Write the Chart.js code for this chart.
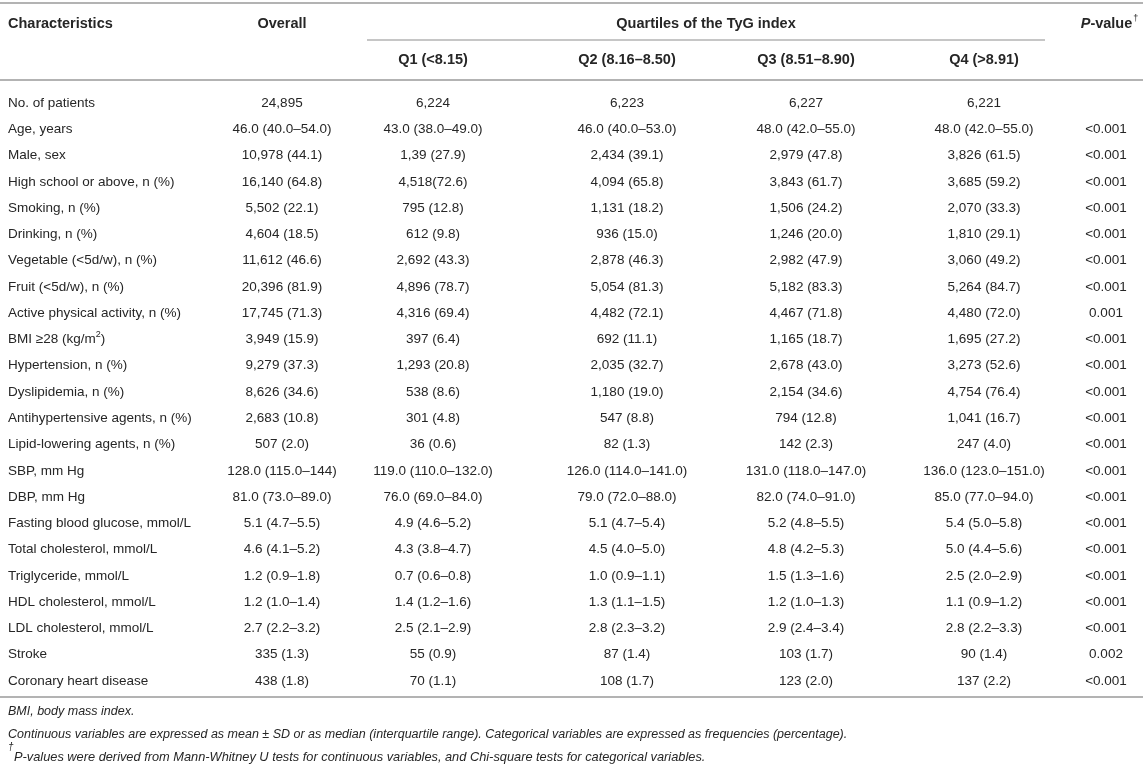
<!DOCTYPE html>
<html>
<head>
<meta charset="utf-8">
<title>Baseline characteristics by TyG quartiles</title>
<script src="https://cdn.jsdelivr.net/npm/chart.js@4.4.1/dist/chart.umd.min.js"></script>
<style>
  html, body { margin: 0; padding: 0; background: #fff; }
  #table { display: block; }
</style>
</head>
<body>
<canvas id="table" width="1143" height="778"></canvas>
<script>
// row labels (y categories)
var characteristics = [
    "No. of patients", "Age, years", "Male, sex", "High school or above, n (%)",
    "Smoking, n (%)", "Drinking, n (%)", "Vegetable (<5d/w), n (%)", "Fruit (<5d/w), n (%)",
    "Active physical activity, n (%)", "BMI \u226528 (kg/m^2)", "Hypertension, n (%)",
    "Dyslipidemia, n (%)", "Antihypertensive agents, n (%)", "Lipid-lowering agents, n (%)",
    "SBP, mm Hg", "DBP, mm Hg", "Fasting blood glucose, mmol/L", "Total cholesterol, mmol/L",
    "Triglyceride, mmol/L", "HDL cholesterol, mmol/L", "LDL cholesterol, mmol/L",
    "Stroke", "Coronary heart disease"
];

var overall = [
    "24,895", "46.0 (40.0–54.0)", "10,978 (44.1)", "16,140 (64.8)", "5,502 (22.1)",
    "4,604 (18.5)", "11,612 (46.6)", "20,396 (81.9)", "17,745 (71.3)", "3,949 (15.9)",
    "9,279 (37.3)", "8,626 (34.6)", "2,683 (10.8)", "507 (2.0)", "128.0 (115.0–144)",
    "81.0 (73.0–89.0)", "5.1 (4.7–5.5)", "4.6 (4.1–5.2)", "1.2 (0.9–1.8)", "1.2 (1.0–1.4)",
    "2.7 (2.2–3.2)", "335 (1.3)", "438 (1.8)"
];
var q1 = [
    "6,224", "43.0 (38.0–49.0)", "1,39 (27.9)", "4,518(72.6)", "795 (12.8)",
    "612 (9.8)", "2,692 (43.3)", "4,896 (78.7)", "4,316 (69.4)", "397 (6.4)",
    "1,293 (20.8)", "538 (8.6)", "301 (4.8)", "36 (0.6)", "119.0 (110.0–132.0)",
    "76.0 (69.0–84.0)", "4.9 (4.6–5.2)", "4.3 (3.8–4.7)", "0.7 (0.6–0.8)", "1.4 (1.2–1.6)",
    "2.5 (2.1–2.9)", "55 (0.9)", "70 (1.1)"
];
var q2 = [
    "6,223", "46.0 (40.0–53.0)", "2,434 (39.1)", "4,094 (65.8)", "1,131 (18.2)",
    "936 (15.0)", "2,878 (46.3)", "5,054 (81.3)", "4,482 (72.1)", "692 (11.1)",
    "2,035 (32.7)", "1,180 (19.0)", "547 (8.8)", "82 (1.3)", "126.0 (114.0–141.0)",
    "79.0 (72.0–88.0)", "5.1 (4.7–5.4)", "4.5 (4.0–5.0)", "1.0 (0.9–1.1)", "1.3 (1.1–1.5)",
    "2.8 (2.3–3.2)", "87 (1.4)", "108 (1.7)"
];
var q3 = [
    "6,227", "48.0 (42.0–55.0)", "2,979 (47.8)", "3,843 (61.7)", "1,506 (24.2)",
    "1,246 (20.0)", "2,982 (47.9)", "5,182 (83.3)", "4,467 (71.8)", "1,165 (18.7)",
    "2,678 (43.0)", "2,154 (34.6)", "794 (12.8)", "142 (2.3)", "131.0 (118.0–147.0)",
    "82.0 (74.0–91.0)", "5.2 (4.8–5.5)", "4.8 (4.2–5.3)", "1.5 (1.3–1.6)", "1.2 (1.0–1.3)",
    "2.9 (2.4–3.4)", "103 (1.7)", "123 (2.0)"
];
var q4 = [
    "6,221", "48.0 (42.0–55.0)", "3,826 (61.5)", "3,685 (59.2)", "2,070 (33.3)",
    "1,810 (29.1)", "3,060 (49.2)", "5,264 (84.7)", "4,480 (72.0)", "1,695 (27.2)",
    "3,273 (52.6)", "4,754 (76.4)", "1,041 (16.7)", "247 (4.0)", "136.0 (123.0–151.0)",
    "85.0 (77.0–94.0)", "5.4 (5.0–5.8)", "5.0 (4.4–5.6)", "2.5 (2.0–2.9)", "1.1 (0.9–1.2)",
    "2.8 (2.2–3.3)", "90 (1.4)", "137 (2.2)"
];
var pValues = [
    "", "<0.001", "<0.001", "<0.001", "<0.001", "<0.001", "<0.001", "<0.001",
    "0.001", "<0.001", "<0.001", "<0.001", "<0.001", "<0.001", "<0.001", "<0.001",
    "<0.001", "<0.001", "<0.001", "<0.001", "<0.001", "0.002", "<0.001"
];

var headerTop = ["Characteristics", "Overall", "Quartiles of the TyG index", "P-value"];
var quartileHeaders = ["Q1 (<8.15)", "Q2 (8.16–8.50)", "Q3 (8.51–8.90)", "Q4 (>8.91)"];
var footnotes = [
    "BMI, body mass index.",
    "Continuous variables are expressed as mean \u00b1 SD or as median (interquartile range). Categorical variables are expressed as frequencies (percentage).",
    "P-values were derived from Mann-Whitney U tests for continuous variables, and Chi-square tests for categorical variables."
];

// layout: x positions of the columns (pixels on the hidden linear axis)
var colX = [8, 282, 433, 627, 806, 984, 1106];
var quartileSpan = [367, 1045];

var FONT = '"Liberation Sans", Arial, Helvetica, sans-serif';
var BODY = '13.5px ' + FONT;
var HEAD = 'bold 14.5px ' + FONT;
var TEXT = '#262626';
var RULE = '#b3b3b3';

function drawCell(ctx, txt, x, y, align) {
    // handles a single superscript char marked with ^
    var k = txt.indexOf('^');
    if (k < 0) {
        ctx.textAlign = align;
        ctx.fillText(txt, x, y);
        return;
    }
    var a = txt.slice(0, k), s = txt.charAt(k + 1), b = txt.slice(k + 2);
    var base = ctx.font;
    var wa = ctx.measureText(a).width, wb = ctx.measureText(b).width;
    ctx.font = '9px ' + FONT;
    var ws = ctx.measureText(s).width;
    ctx.font = base;
    var x0 = align === 'center' ? x - (wa + ws + wb) / 2 : x;
    ctx.textAlign = 'left';
    ctx.fillText(a, x0, y);
    ctx.font = '9px ' + FONT;
    ctx.fillText(s, x0 + wa, y - 5);
    ctx.font = base;
    ctx.fillText(b, x0 + wa + ws, y);
}

function rule(ctx, x1, x2, y, w) {
    ctx.beginPath();
    ctx.lineWidth = w;
    ctx.strokeStyle = RULE;
    ctx.moveTo(x1, y);
    ctx.lineTo(x2, y);
    ctx.stroke();
}

var tablePlugin = {
    id: 'tableText',
    afterDatasetsDraw: function (chart) {
        var ctx = chart.ctx;
        var area = chart.chartArea;
        var x = chart.scales.x;
        var top = area.top, bottom = area.bottom;
        var W = chart.width;

        ctx.save();
        ctx.fillStyle = TEXT;
        ctx.textBaseline = 'middle';

        // body cells, one dataset per column
        ctx.font = BODY;
        chart.data.datasets.forEach(function (ds, i) {
            var meta = chart.getDatasetMeta(i);
            meta.data.forEach(function (pt, j) {
                drawCell(ctx, ds.cells[j], pt.x, pt.y, ds.align);
            });
        });

        // rules
        rule(ctx, 0, W, top - 100, 2);
        rule(ctx, x.getPixelForValue(quartileSpan[0]), x.getPixelForValue(quartileSpan[1]), top - 63, 1.5);
        rule(ctx, 0, W, top - 23, 2);
        rule(ctx, 0, W, bottom + 16, 2);

        // header
        ctx.font = HEAD;
        var h1 = top - 79.5, h2 = top - 43.5;
        ctx.textAlign = 'left';
        ctx.fillText(headerTop[0], x.getPixelForValue(colX[0]), h1);
        ctx.textAlign = 'center';
        ctx.fillText(headerTop[1], x.getPixelForValue(colX[1]), h1);
        ctx.fillText(headerTop[2], x.getPixelForValue((quartileSpan[0] + quartileSpan[1]) / 2), h1);
        quartileHeaders.forEach(function (q, i) {
            ctx.fillText(q, x.getPixelForValue(colX[i + 2]), h2);
        });

        // P-value with italic P and dagger
        var pc = x.getPixelForValue(colX[6]) + 3;
        ctx.font = 'italic ' + HEAD;
        var wP = ctx.measureText('P').width;
        ctx.font = HEAD;
        var rest = headerTop[3].slice(1);
        var wR = ctx.measureText(rest).width;
        ctx.font = '9px ' + FONT;
        var wD = ctx.measureText('\u2020').width;
        var px = pc - (wP + wR + wD) / 2;
        ctx.textAlign = 'left';
        ctx.font = 'italic ' + HEAD;
        ctx.fillText('P', px, h1);
        ctx.font = HEAD;
        ctx.fillText(rest, px + wP, h1);
        ctx.font = '9px ' + FONT;
        ctx.fillText('\u2020', px + wP + wR + 1, h1 - 5);

        // footnotes
        ctx.font = 'italic 12.5px ' + FONT;
        ctx.fillText(footnotes[0], 8, bottom + 31);
        ctx.fillText(footnotes[1], 8, bottom + 54);
        ctx.font = 'italic 10px ' + FONT;
        ctx.fillText('\u2020', 8, bottom + 66);
        ctx.font = 'italic 12.8px ' + FONT;
        ctx.fillText(footnotes[2], 14, bottom + 76);

        ctx.restore();
    }
};

var columns = [characteristics, overall, q1, q2, q3, q4, pValues];
var datasets = columns.map(function (cells, c) {
    return {
        label: c === 0 ? headerTop[0] : 'col' + c,
        cells: cells,
        align: c === 0 ? 'left' : 'center',
        data: characteristics.map(function (row) {
            return { x: colX[c], y: row };
        }),
        pointRadius: 0,
        pointHoverRadius: 0,
        showLine: false
    };
});

var ctx = document.getElementById('table').getContext('2d');
var tableChart = new Chart(ctx, {
    type: 'scatter',
    data: { datasets: datasets },
    options: {
        responsive: false,
        animation: false,
        devicePixelRatio: 1,
        layout: { padding: { top: 103, bottom: 97, left: 0, right: 0 } },
        plugins: { legend: { display: false }, tooltip: { enabled: false } },
        scales: {
            x: { type: 'linear', min: 0, max: 1143, display: false },
            y: { type: 'category', labels: characteristics, offset: false, display: false }
        }
    },
    plugins: [tablePlugin]
});
</script>
</body>
</html>
